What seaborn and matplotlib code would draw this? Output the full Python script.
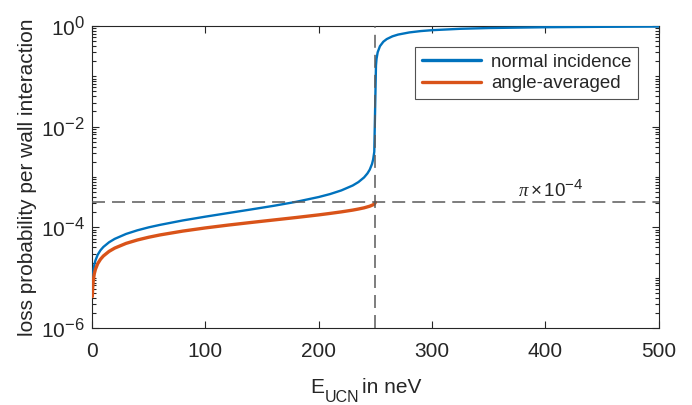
import numpy as np
import pandas as pd
import matplotlib
matplotlib.use("Agg")
import matplotlib.pyplot as plt
import matplotlib._mathtext as _mathtext
from matplotlib.ticker import LogLocator, FixedLocator, NullFormatter
import seaborn as sns

# Neutron energy grid (neV) and loss probability per wall collision
energy_normal = [0.25, 0.5, 1, 2, 3, 5, 7.5, 10, 15, 20, 30, 40, 50, 60, 80, 100,
                 120, 140, 160, 180, 200, 210, 220, 230, 235, 240, 243, 245, 247,
                 248, 249, 250.5, 251, 252, 254, 257, 260, 265, 270, 280, 290, 300,
                 325, 350, 400, 450, 500]
loss_normal = [6.33e-6, 8.95e-6, 1.27e-5, 1.80e-5, 2.20e-5, 2.86e-5, 3.52e-5, 4.08e-5,
               5.05e-5, 5.90e-5, 7.39e-5, 8.73e-5, 1.00e-4, 1.12e-4, 1.37e-4, 1.63e-4,
               1.92e-4, 2.26e-4, 2.67e-4, 3.21e-4, 4.00e-4, 4.58e-4, 5.42e-4, 6.78e-4,
               7.92e-4, 9.80e-4, 1.18e-3, 1.40e-3, 1.81e-3, 2.23e-3, 3.16e-3,
               0.164, 0.223, 0.300, 0.396, 0.486, 0.548, 0.621, 0.673, 0.743, 0.790,
               0.823, 0.877, 0.908, 0.942, 0.960, 0.971]

energy_avg = [0.25, 0.5, 1, 2, 3, 5, 7.5, 10, 15, 20, 30, 40, 50, 60, 80, 100, 120,
              140, 160, 180, 200, 210, 220, 230, 235, 240, 245, 248, 249, 250]
loss_avg = [4.22e-6, 5.96e-6, 8.44e-6, 1.20e-5, 1.47e-5, 1.90e-5, 2.33e-5, 2.70e-5,
            3.33e-5, 3.87e-5, 4.80e-5, 5.61e-5, 6.36e-5, 7.07e-5, 8.42e-5, 9.74e-5,
            1.108e-4, 1.247e-4, 1.398e-4, 1.567e-4, 1.768e-4, 1.89e-4, 2.03e-4,
            2.20e-4, 2.31e-4, 2.44e-4, 2.63e-4, 2.81e-4, 2.90e-4, 3.14e-4]

fermi_potential = 250          # neV
reference_level = np.pi * 1e-4

x_ticks = [0, 100, 200, 300, 400, 500]
y_ticks = [1e-6, 1e-4, 1e-2, 1e0]
y_tick_labels = [r"$10^{-6}$", r"$10^{-4}$", r"$10^{-2}$", r"$10^{0}$"]

df_normal = pd.DataFrame({"E": energy_normal, "loss": loss_normal})
df_avg = pd.DataFrame({"E": energy_avg, "loss": loss_avg})

sns.set_theme(style="ticks")
plt.rcParams["font.family"] = ["Liberation Sans", "DejaVu Sans"]
plt.rcParams["mathtext.fontset"] = "custom"
plt.rcParams["mathtext.rm"] = "Liberation Sans"
plt.rcParams["mathtext.it"] = "Liberation Serif:italic"
plt.rcParams["mathtext.default"] = "regular"
# larger exponents
_mathtext.SHRINK_FACTOR = 0.8

ink = "#262626"
blue = "#0072BD"
orange = "#D95319"
fs = 15

fig = plt.figure(figsize=(6.92, 4.05), dpi=100)
ax = fig.add_axes([0.133, 0.190, 0.819, 0.746])

sns.lineplot(data=df_normal, x="E", y="loss", ax=ax, color=blue, lw=1.7,
             label="normal incidence", sort=False, zorder=3)
sns.lineplot(data=df_avg, x="E", y="loss", ax=ax, color=orange, lw=2.4,
             label="angle-averaged", sort=False, zorder=3)

dash_kw = dict(color="#5a5a5a", lw=1.1, dashes=(8.5, 4.6), zorder=4)
ax.axvline(fermi_potential, **dash_kw)
ax.axhline(reference_level, **dash_kw)

ax.set_yscale("log")
ax.set_xlim(0, 500)
ax.set_ylim(1e-6, 1)

ax.xaxis.set_major_locator(FixedLocator(x_ticks))
ax.yaxis.set_major_locator(FixedLocator(y_ticks))
ax.yaxis.set_minor_locator(LogLocator(base=10, subs=np.arange(1, 10), numticks=20))
ax.yaxis.set_minor_formatter(NullFormatter())
ax.set_yticklabels(y_tick_labels)

ax.tick_params(axis="both", which="both", direction="in", top=True, right=True,
               colors=ink, labelcolor=ink, labelsize=fs, width=0.8)
ax.tick_params(axis="both", which="major", length=5)
ax.tick_params(axis="y", which="minor", length=2.8)
ax.tick_params(axis="x", which="major", pad=10)
ax.tick_params(axis="y", which="major", pad=5)
for s in ax.spines.values():
    s.set_color(ink)
    s.set_linewidth(0.8)

ax.set_xlabel("")
ax.set_ylabel("loss probability per wall interaction", fontsize=fs, color=ink,
              labelpad=3)

# x-axis label with a near full-size subscript
W, H = 692, 405
fig.text(310 / W, 1 - 393 / H, "E", fontsize=fs, color=ink, va="baseline")
fig.text(324.5 / W, 1 - 402 / H, "UCN", fontsize=11.5, color=ink, va="baseline")
fig.text(362 / W, 1 - 393 / H, "in neV", fontsize=fs, color=ink, va="baseline")

ax.text(376, reference_level * 1.3, r"$\mathit{\pi}\times10^{-4}$", fontsize=13.5,
        color=ink, va="baseline", ha="left")

leg = ax.legend(loc="upper right", bbox_to_anchor=(0.963, 0.93), fontsize=13.4,
                frameon=True, fancybox=False, edgecolor=ink, handlelength=3.2,
                handletextpad=0.5, borderpad=0.35, labelspacing=0.25,
                borderaxespad=0)
leg.get_frame().set_linewidth(0.8)
for t in leg.get_texts():
    t.set_color(ink)
for h in leg.get_lines():
    h.set_linewidth(2.4)

fig.savefig("out.png", dpi=100)
